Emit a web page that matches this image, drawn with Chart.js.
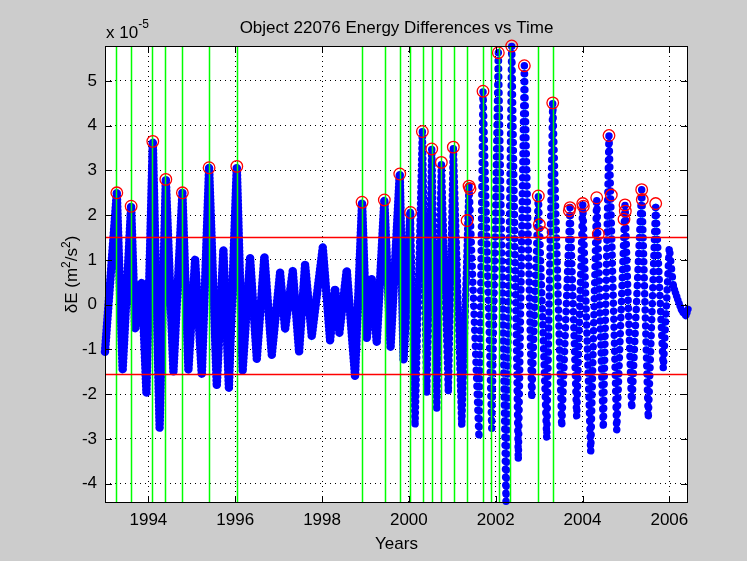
<!DOCTYPE html>
<html>
<head>
<meta charset="utf-8">
<script src="https://cdn.jsdelivr.net/npm/chart.js@4"></script>
<style>
  html, body { margin: 0; padding: 0; background: #cccccc; }
  canvas { display: block; }
</style>
</head>
<body>
<canvas id="chart" width="747" height="561"></canvas>
<script>
// Turning points of the energy difference record (units of 1e-5 m^2/s^2)
const seriesYears = [1993.00, 1993.272, 1993.406, 1993.602, 1993.694, 1993.848, 1993.954, 1994.101, 1994.258, 1994.401,
  1994.576, 1994.783, 1994.921, 1995.076, 1995.230, 1995.398, 1995.575, 1995.727, 1995.854, 1996.036,
  1996.170, 1996.342, 1996.497, 1996.672, 1996.842, 1997.033, 1997.148, 1997.326, 1997.471, 1997.609,
  1997.763, 1998.017, 1998.185, 1998.300, 1998.399, 1998.569, 1998.760, 1998.922, 1999.030, 1999.145,
  1999.260, 1999.435, 1999.578, 1999.790, 1999.878, 2000.034, 2000.142, 2000.311, 2000.412, 2000.527,
  2000.642, 2000.748, 2000.909, 2001.024, 2001.218, 2001.386, 2001.616, 2001.708, 2001.909, 2002.061,
  2002.238, 2002.369, 2002.521, 2002.660, 2002.830, 2002.982, 2003.176, 2003.314, 2003.521, 2003.712,
  2003.866, 2004.005, 2004.189, 2004.327, 2004.479, 2004.610, 2004.788, 2004.979, 2005.133, 2005.363,
  2005.515, 2005.686, 2005.861, 2005.999, 2006.091, 2006.199, 2006.292, 2006.384, 2006.430];
const seriesValues = [-1.05, 2.50, -1.48, 2.20, -0.54, 0.50, -1.97, 3.65, -2.75, 2.80,
  -1.51, 2.50, -1.47, 1.02, -1.58, 3.06, -1.82, 1.24, -1.86, 3.09,
  -1.49, 1.05, -1.21, 1.09, -1.12, 0.72, -0.55, 0.76, -1.06, 0.90,
  -0.71, 1.28, -0.80, 0.37, -0.63, 0.78, -1.60, 2.29, -0.77, 0.57,
  -0.85, 2.34, -0.97, 2.92, -1.25, 2.06, -2.70, 3.87, -1.99, 3.48,
  -2.36, 3.18, -1.95, 3.52, -2.70, 2.65, -2.99, 4.77, -2.77, 5.63,
  -4.40, 5.78, -3.48, 5.34, -2.10, 2.43, -2.99, 4.51, -2.73, 2.17,
  -2.51, 2.26, -3.29, 2.39, -2.77, 3.78, -2.81, 2.23, -2.33, 2.57,
  -2.55, 2.26, -1.43, 1.28, 0.42, 0.10, -0.15, -0.25, -0.10];

// Flagged peaks above the threshold
const peakYears = [1993.272, 1993.602, 1994.101, 1994.401, 1994.783, 1995.398, 1996.036, 1998.922, 1999.435, 1999.790,
  2000.039, 2000.311, 2000.527, 2000.748, 2001.024, 2001.386, 2001.409, 2001.340, 2001.708, 2002.061,
  2002.369, 2002.660, 2002.982, 2003.005, 2003.083, 2003.314, 2003.712, 2003.696, 2004.005, 2004.019,
  2004.327, 2004.364, 2004.610, 2004.663, 2004.979, 2004.986, 2004.956, 2005.363, 2005.377, 2005.686];
const peakValues = [2.50, 2.20, 3.65, 2.80, 2.50, 3.06, 3.09, 2.29, 2.34, 2.92,
  2.06, 3.87, 3.48, 3.18, 3.52, 2.65, 2.59, 1.88, 4.77, 5.63,
  5.78, 5.34, 2.43, 1.79, 1.61, 4.51, 2.17, 2.10, 2.26, 2.20,
  2.39, 1.58, 3.78, 2.45, 2.23, 2.09, 1.91, 2.57, 2.35, 2.26];

// Event epochs (vertical markers)
const eventYears = [1993.256, 1993.602, 1994.092, 1994.385, 1994.783, 1995.391, 1996.036, 1998.929, 1999.444, 1999.797,
  2000.027, 2000.320, 2000.541, 2000.748, 2001.029, 2001.347, 2001.704, 2001.893, 2002.084, 2002.330,
  2002.980, 2003.316];

// Detection thresholds
const thresholdValues = [1.52, -1.55];

// Axis ticks and limits
const xTickYears = [1994, 1996, 1998, 2000, 2002, 2004, 2006];
const yTickValues = [-4, -3, -2, -1, 0, 1, 2, 3, 4, 5];
const xRange = [1993.0, 2006.43];
const yRange = [-4.43, 5.78];

const FONT = '"Liberation Sans", Arial, Helvetica, sans-serif';
Chart.defaults.font.family = FONT;
Chart.defaults.font.size = 17;
Chart.defaults.color = '#000';

const series = seriesYears.map((x, i) => ({ x, y: seriesValues[i] }));
const peaks = peakYears.map((x, i) => ({ x, y: peakValues[i] }));

// bead size and spacing along the record: dense sampling before 2000 and at the end, sparser in between
const beadWidth = yr => yr < 1999.95 ? 8.5 : 7.5;
const beadGap = yr => (yr < 1999.95 || yr > 2006.05) ? 3.6 : (yr < 2001.3 ? 5.5 : 8);

function drawRuns(ctx, runs, x, y) {
  // runs: [text, size, raise]
  let cx = x;
  for (const [t, size, raise] of runs) {
    ctx.font = size + 'px ' + FONT;
    ctx.fillText(t, cx, y - raise);
    cx += ctx.measureText(t).width;
  }
  return cx - x;
}
function runsWidth(ctx, runs) {
  let w = 0;
  for (const [t, size] of runs) { ctx.font = size + 'px ' + FONT; w += ctx.measureText(t).width; }
  return w;
}

const framePlugin = {
  id: 'frame',
  beforeDraw(chart) {
    const { ctx, chartArea: a } = chart;
    ctx.save();
    ctx.fillStyle = '#cccccc';
    ctx.fillRect(0, 0, chart.width, chart.height);
    ctx.fillStyle = '#ffffff';
    ctx.fillRect(a.left, a.top, a.right - a.left, a.bottom - a.top);
    ctx.restore();
  },
  afterDatasetDraw(chart, args) {
    if (args.index !== 1) return;
    const { ctx, chartArea: a, scales: { x, y } } = chart;
    ctx.save();
    ctx.lineWidth = 1.5;
    ctx.strokeStyle = '#00ff00';
    for (const t of eventYears) {
      const px = Math.round(x.getPixelForValue(t)) + 0.5;
      ctx.beginPath(); ctx.moveTo(px, a.top); ctx.lineTo(px, a.bottom); ctx.stroke();
    }
    ctx.lineWidth = 1.3;
    ctx.strokeStyle = '#ff0000';
    for (const v of thresholdValues) {
      const py = Math.round(y.getPixelForValue(v)) + 0.5;
      ctx.beginPath(); ctx.moveTo(a.left, py); ctx.lineTo(a.right, py); ctx.stroke();
    }
    ctx.restore();
  },
  afterDraw(chart) {
    const { ctx, chartArea: a, scales: { x, y } } = chart;
    ctx.save();
    // axes box with inward ticks
    ctx.strokeStyle = '#000';
    ctx.lineWidth = 1;
    ctx.strokeRect(a.left + 0.5, a.top + 0.5, a.right - a.left - 1, a.bottom - a.top - 1);
    const tl = 7;
    ctx.beginPath();
    for (const t of xTickYears) {
      const px = Math.round(x.getPixelForValue(t)) + 0.5;
      ctx.moveTo(px, a.bottom); ctx.lineTo(px, a.bottom - tl);
      ctx.moveTo(px, a.top); ctx.lineTo(px, a.top + tl);
    }
    for (const v of yTickValues) {
      const py = Math.round(y.getPixelForValue(v)) + 0.5;
      ctx.moveTo(a.left, py); ctx.lineTo(a.left + tl, py);
      ctx.moveTo(a.right, py); ctx.lineTo(a.right - tl, py);
    }
    ctx.stroke();

    ctx.fillStyle = '#000';
    ctx.textBaseline = 'alphabetic';
    // title
    ctx.textAlign = 'center';
    ctx.font = '17px ' + FONT;
    ctx.fillText('Object 22076 Energy Differences vs Time', (a.left + a.right) / 2, 33);
    // x label
    ctx.fillText('Years', (a.left + a.right) / 2, 549);
    // exponent
    ctx.textAlign = 'left';
    drawRuns(ctx, [['x 10', 17, 0], ['-5', 12, 10]], a.left + 1, 38);
    // y label (rotated)
    const yl = [['\u03B4E (m', 17, 0], ['2', 12, 7], ['/s', 17, 0], ['2', 12, 7], [')', 17, 0]];
    const w = runsWidth(ctx, yl);
    ctx.translate(77, (a.top + a.bottom) / 2 + w / 2);
    ctx.rotate(-Math.PI / 2);
    drawRuns(ctx, yl, 0, 0);
    ctx.restore();
  }
};

new Chart(document.getElementById('chart'), {
  type: 'scatter',
  data: {
    datasets: [
      {
        label: 'peaks',
        data: peaks,
        showLine: false,
        pointStyle: 'circle',
        pointRadius: 5.8,
        pointBorderWidth: 1.3,
        pointBorderColor: '#ff0000',
        pointBackgroundColor: 'rgba(0,0,0,0)',
        clip: false,
        order: 0
      },
      {
        label: 'dE samples',
        type: 'line',
        data: series,
        borderColor: '#0000ff',
        borderWidth: 8,
        borderCapStyle: 'round',
        borderJoinStyle: 'round',
        pointRadius: 0,
        tension: 0,
        fill: false,
        clip: false,
        segment: {
          borderWidth: c => beadWidth(c.p0.parsed.x),
          borderDash: c => [0.01, beadGap(c.p0.parsed.x)]
        },
        order: 1
      },
      {
        label: 'dE trace',
        type: 'line',
        data: series,
        borderColor: '#00ffff',
        borderWidth: 1.2,
        pointRadius: 0,
        tension: 0,
        fill: false,
        order: 2
      }
    ]
  },
  options: {
    responsive: false,
    animation: false,
    devicePixelRatio: 1,
    layout: { padding: { left: 0, top: 46, right: 59, bottom: 0 } },
    plugins: { legend: { display: false }, tooltip: { enabled: false }, title: { display: false } },
    scales: {
      x: {
        type: 'linear',
        min: xRange[0],
        max: xRange[1],
        afterBuildTicks: s => { s.ticks = xTickYears.map(v => ({ value: v })); },
        afterFit: s => { s.height = 58; },
        ticks: { padding: 7, maxRotation: 0, autoSkip: false, callback: v => String(v), font: { size: 17 } },
        grid: { color: '#000', lineWidth: 1, drawTicks: false },
        border: { display: false, dash: [1, 4] }
      },
      y: {
        type: 'linear',
        min: yRange[0],
        max: yRange[1],
        afterBuildTicks: s => { s.ticks = yTickValues.map(v => ({ value: v })); },
        afterFit: s => { s.width = 105; },
        ticks: { padding: 8, autoSkip: false, callback: v => String(v), font: { size: 17 } },
        grid: { color: '#000', lineWidth: 1, drawTicks: false },
        border: { display: false, dash: [1, 4] }
      }
    }
  },
  plugins: [framePlugin]
});
</script>
</body>
</html>
